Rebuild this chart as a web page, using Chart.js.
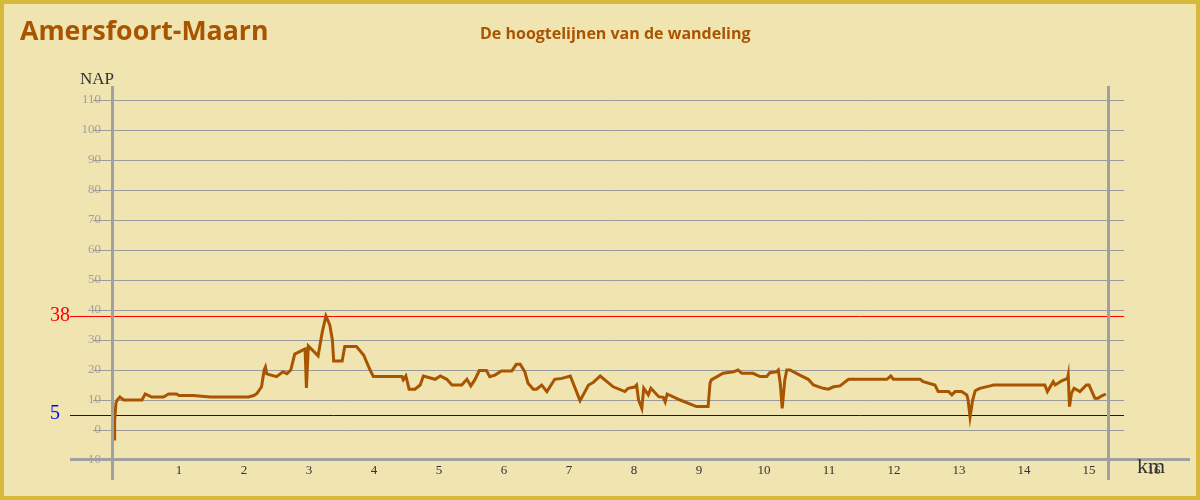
<!DOCTYPE html>
<html>
<head>
<meta charset="utf-8">
<script src="https://cdn.jsdelivr.net/npm/chart.js@4"></script>
<style>
html,body{margin:0;padding:0;background:#f0e4b0;}
#wrap{position:relative;width:1200px;height:500px;overflow:hidden;background:#f0e4b0;}
#frame{position:absolute;left:0;top:0;width:1200px;height:500px;box-sizing:border-box;border:4px solid #d8b838;pointer-events:none;z-index:3;}
#c{position:absolute;left:0;top:0;}
#title{position:absolute;left:20px;top:11px;font-family:"Open Sans";font-weight:bold;font-size:26.7px;color:#a85400;z-index:2;white-space:nowrap;}
#sub{position:absolute;left:480px;top:22px;font-family:"Open Sans";font-weight:bold;font-size:16px;color:#a85400;z-index:2;white-space:nowrap;}
</style>
</head>
<body>
<div id="wrap">
  <canvas id="c" width="1200" height="500"></canvas>
  <div id="title">Amersfoort-Maarn</div>
  <div id="sub">De hoogtelijnen van de wandeling</div>
  <div id="frame"></div>
</div>
<script>
// distance along the walk (km)
const distanceKm = [
  0.00,0.01,0.03,0.05,0.09,0.15,0.20,0.43,0.48,0.58,0.76,0.84,0.96,1.00,1.22,1.48,2.07,2.15,2.20,2.27,
  2.31,2.33,2.35,2.50,2.60,2.66,2.72,2.78,2.91,2.94,2.96,2.99,3.14,3.20,3.26,3.32,3.36,3.38,3.51,3.55,
  3.73,3.84,3.94,3.99,4.43,4.45,4.49,4.54,4.63,4.71,4.76,4.94,5.02,5.12,5.20,5.35,5.43,5.49,5.55,5.62,
  5.73,5.78,5.86,5.96,6.12,6.19,6.25,6.32,6.37,6.45,6.50,6.58,6.66,6.78,6.89,7.02,7.17,7.30,7.37,7.48,
  7.68,7.86,7.91,8.01,8.04,8.07,8.12,8.15,8.22,8.26,8.38,8.45,8.48,8.51,8.71,8.96,9.14,9.17,9.19,9.37,
  9.53,9.60,9.66,9.83,9.94,10.04,10.09,10.19,10.22,10.25,10.28,10.32,10.35,10.40,10.55,10.68,10.76,10.91,10.99,11.07,
  11.17,11.30,11.89,11.95,11.99,12.40,12.45,12.63,12.68,12.84,12.89,12.94,13.04,13.12,13.14,13.17,13.21,13.25,13.32,13.48,
  13.53,14.32,14.36,14.45,14.48,14.58,14.67,14.68,14.70,14.73,14.77,14.86,14.96,15.00,15.09,15.14,15.19,15.26
];
// elevation (m NAP)
const elevation = [
  -3,3,9,10,11,10,10,10,12,11,11,12,12,11.5,11.5,11,11,11.5,12.2,14.4,
  20,21,18.7,17.8,19.4,18.8,20,25.3,26.7,27,14,28,24.7,32.2,38,35,30,23,23,27.8,
  27.8,25,20,17.8,17.8,16.7,18,13.6,13.6,15,18,16.9,18,16.9,15,15,16.9,14.7,16.7,19.8,
  19.8,17.8,18.3,19.7,19.7,21.9,21.9,19.4,15.6,13.6,13.6,15,12.8,16.9,17.2,18,9.8,15,15.8,18,
  14.4,12.8,13.9,14.3,15,10,7.2,13.9,11.7,13.9,11.1,10.9,9.4,12,10,7.8,7.8,15.6,16.7,18.9,
  19.4,20,18.9,18.9,17.8,17.8,19.1,19.4,20,15.6,7.2,16.7,20,20,18.3,16.9,15,13.9,13.6,14.4,
  14.7,16.9,16.9,18,16.9,16.9,16.1,15,12.8,12.8,11.7,12.8,12.8,11.7,10,4.4,10,13.1,13.9,14.7,
  15,15,12.8,16.1,15,16.4,17.2,18.3,7.8,12.2,13.9,12.8,15,15,10.6,10.6,11.3,12
];
// reference lines: highest point and lowest NAP marker
const maxLevel = [38];
const minLevel = [5];
const yTicks = [-10,0,10,20,30,40,50,60,70,80,90,100,110];
const xTicks = [1,2,3,4,5,6,7,8,9,10,11,12,13,14,15,16];
const yAxisLabel = 'NAP';
const xAxisLabel = 'km';
const routeEndKm = 15.29;

const overlay = {
  id:'overlay',
  beforeDatasetsDraw(chart){
    const {ctx} = chart;
    const xs = chart.scales.x, ys = chart.scales.y;
    const gridRight = xs.getPixelForValue(15.54);
    ctx.save();
    // horizontal grid lines (over the tick labels, as in the original)
    ctx.strokeStyle = '#9a9a9a';
    ctx.lineWidth = 1;
    yTicks.forEach(v=>{
      if (v === -10) return;
      const y = Math.round(ys.getPixelForValue(v)) + 0.5;
      ctx.beginPath(); ctx.moveTo(93,y); ctx.lineTo(gridRight,y); ctx.stroke();
    });
    // reference lines
    const ry = Math.round(ys.getPixelForValue(maxLevel[0])) + 0.5;
    ctx.strokeStyle = '#ff0000';
    ctx.beginPath(); ctx.moveTo(70,ry); ctx.lineTo(gridRight,ry); ctx.stroke();
    const by = Math.round(ys.getPixelForValue(minLevel[0])) + 0.5;
    ctx.strokeStyle = '#0000dd';
    ctx.beginPath(); ctx.moveTo(70,by); ctx.lineTo(gridRight,by); ctx.stroke();
    ctx.font = '20px "Liberation Serif"';
    ctx.textAlign = 'right';
    ctx.textBaseline = 'middle';
    ctx.fillStyle = '#ff0000';
    ctx.fillText(String(maxLevel[0]), 70, ry - 1);
    ctx.fillStyle = '#0000ff';
    ctx.fillText(String(minLevel[0]), 60, by - 2);
    // axes
    ctx.strokeStyle = '#a0a0a0';
    ctx.lineWidth = 3;
    const x0 = xs.getPixelForValue(0) - 1.5;
    ctx.beginPath(); ctx.moveTo(x0,86); ctx.lineTo(x0,480); ctx.stroke();
    const xe = Math.round(xs.getPixelForValue(routeEndKm)) + 0.5;
    ctx.beginPath(); ctx.moveTo(xe,86); ctx.lineTo(xe,480); ctx.stroke();
    const yb = ys.getPixelForValue(-10) - 0.5;
    ctx.beginPath(); ctx.moveTo(70,yb); ctx.lineTo(1190,yb); ctx.stroke();
    // axis titles
    ctx.fillStyle = '#333333';
    ctx.font = '17px "Liberation Serif"';
    ctx.textAlign = 'left';
    ctx.fillText(yAxisLabel, 80, 80);
    ctx.font = '22px "Liberation Serif"';
    ctx.fillText(xAxisLabel, 1137, 467);
    ctx.restore();
  }
};

new Chart(document.getElementById('c'), {
  type:'line',
  data:{
    datasets:[{
      data: distanceKm.map((x,i)=>({x:x, y:elevation[i]})),
      borderColor:'#a85400',
      borderWidth:3,
      pointRadius:0,
      tension:0,
      fill:false,
      borderJoinStyle:'miter'
    }]
  },
  options:{
    responsive:false,
    animation:false,
    events:[],
    layout:{padding:{left:0,right:46,top:100,bottom:0}},
    plugins:{legend:{display:false},tooltip:{enabled:false}},
    scales:{
      x:{
        type:'linear', min:0, max:16,
        afterFit(s){ s.height = 40; },
        afterBuildTicks(s){ s.ticks = xTicks.map(v=>({value:v})); },
        grid:{display:false, drawTicks:false},
        border:{display:false},
        ticks:{padding:3, color:'#333333', autoSkip:false, maxRotation:0,
               font:{family:'Liberation Serif', size:13}}
      },
      y:{
        type:'linear', min:-10, max:110,
        afterFit(s){ s.width = 114; },
        afterBuildTicks(s){ s.ticks = yTicks.map(v=>({value:v})); },
        grid:{display:false, drawTicks:false},
        border:{display:false},
        ticks:{padding:13, color:'#a0a0a0', font:{family:'Liberation Serif', size:13}}
      }
    }
  },
  plugins:[overlay]
});
</script>
</body>
</html>
